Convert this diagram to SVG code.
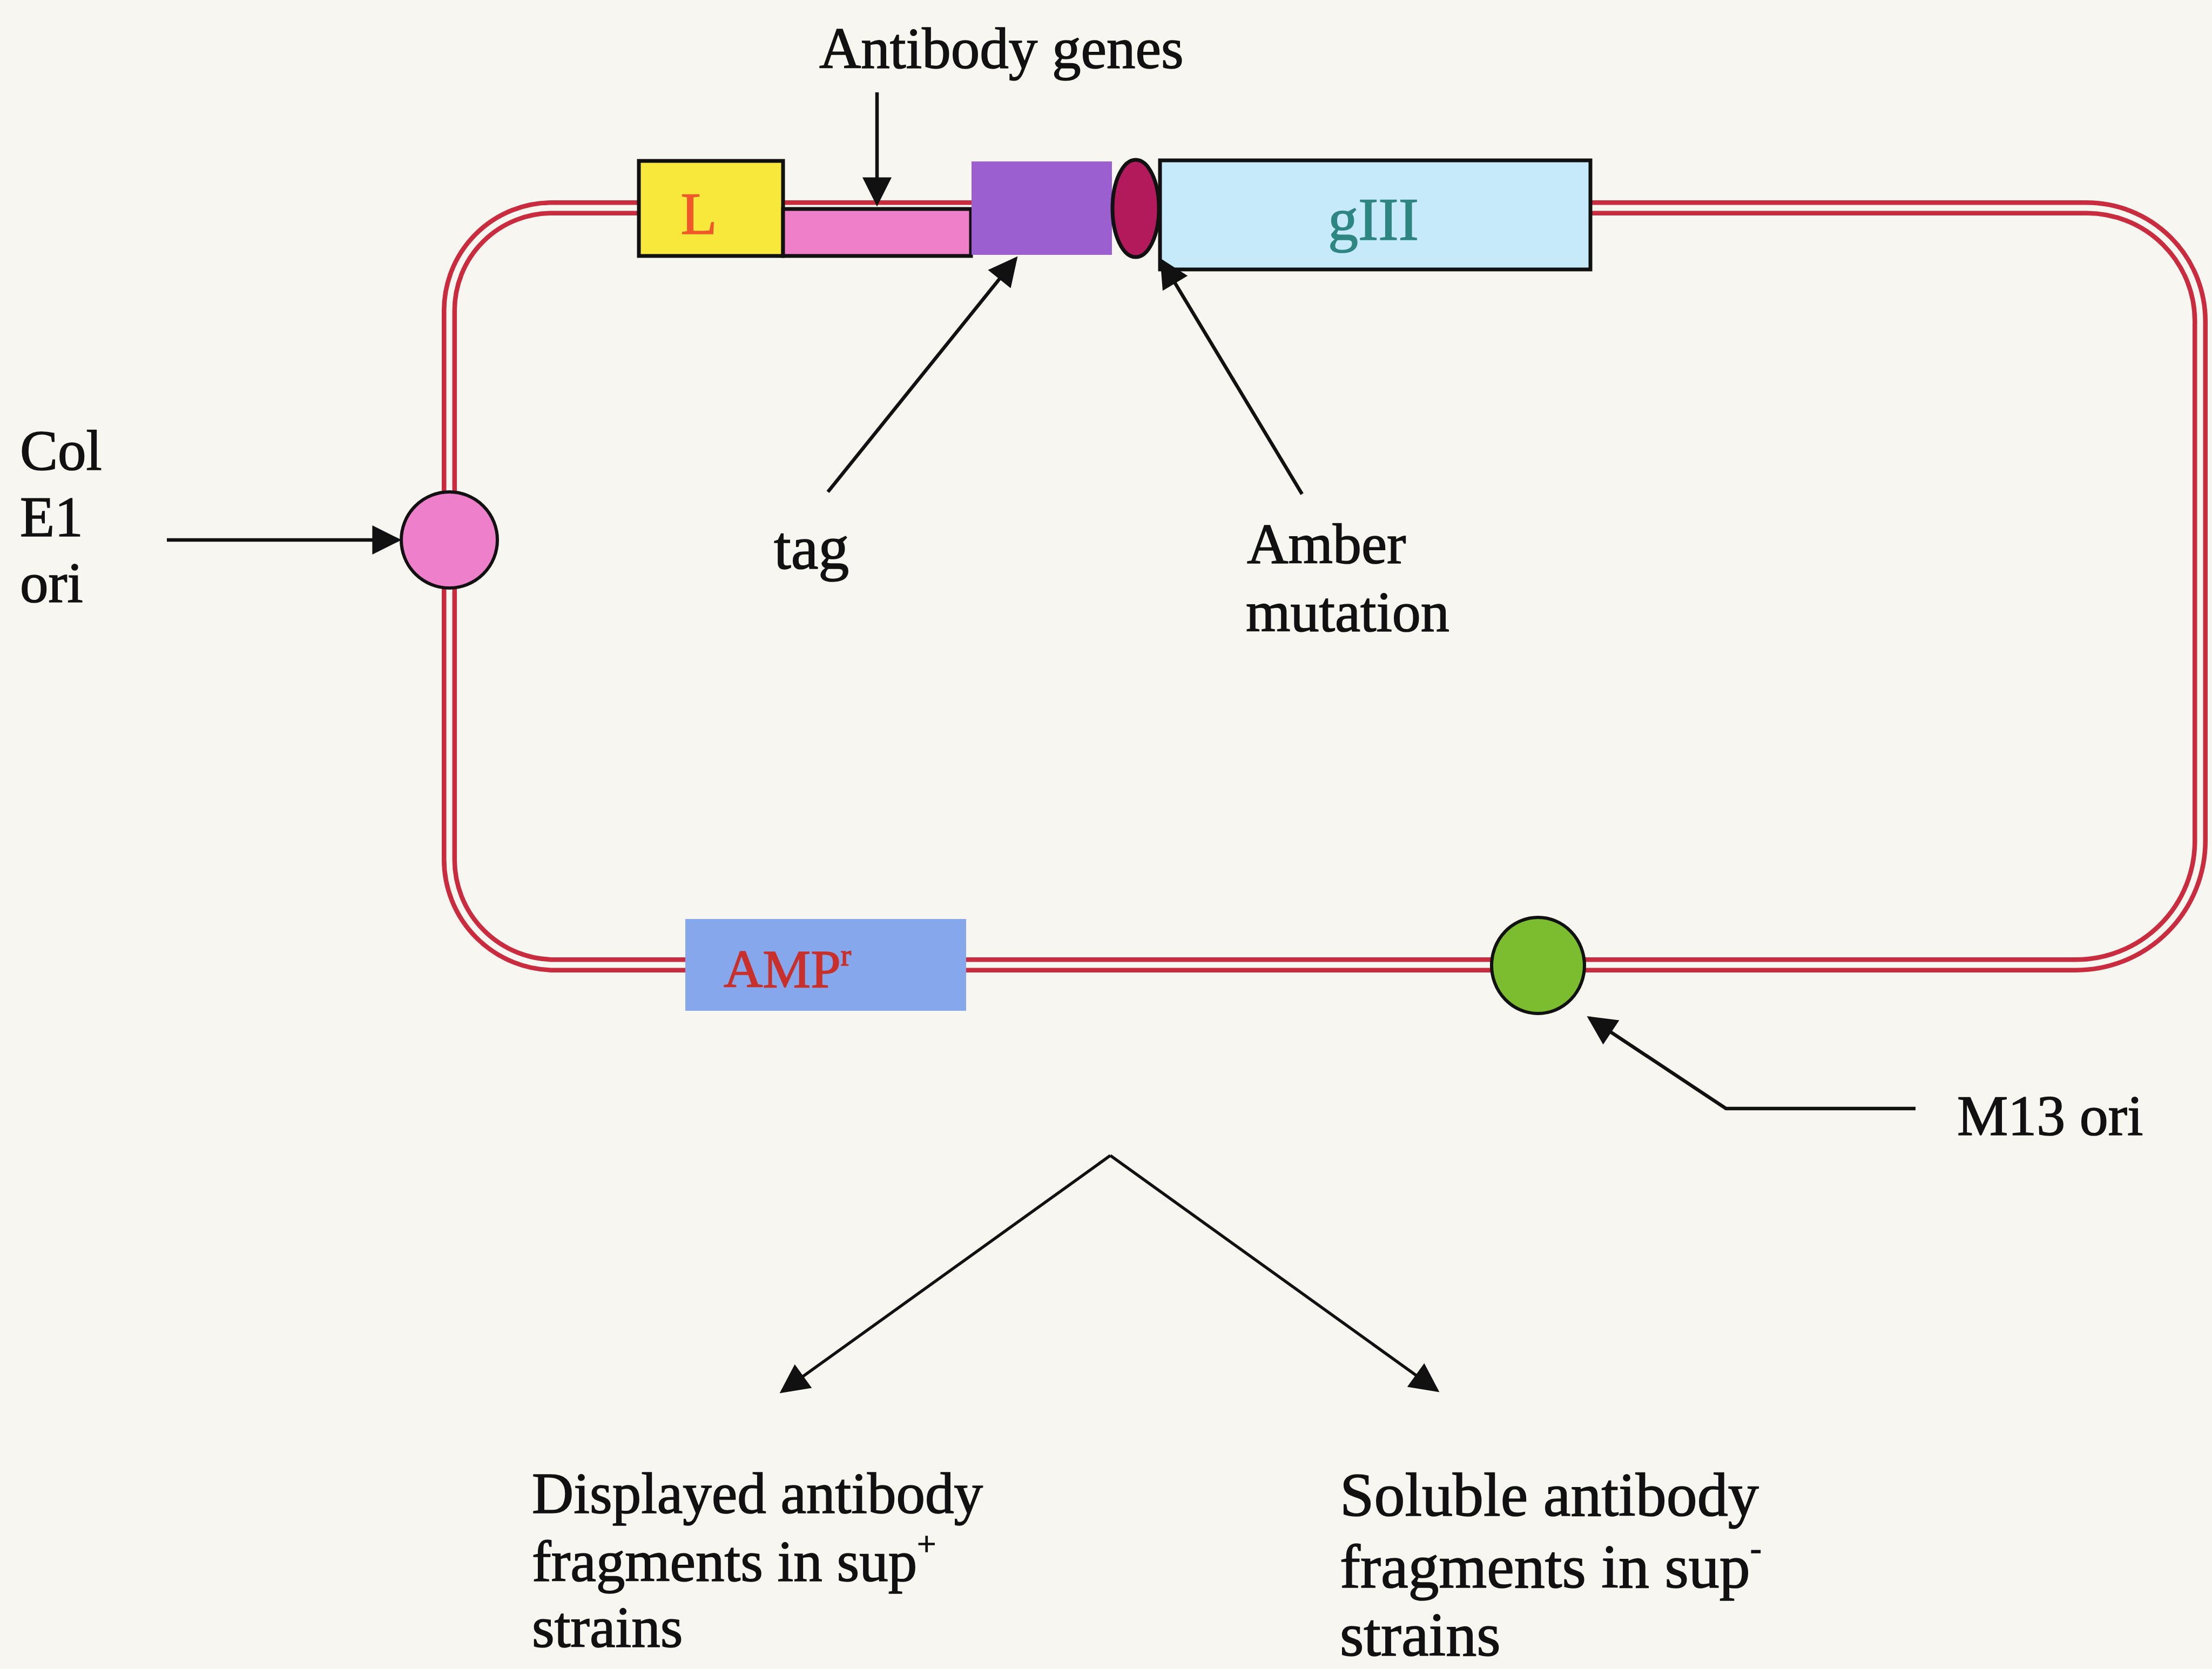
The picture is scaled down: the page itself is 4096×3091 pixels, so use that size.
<svg xmlns="http://www.w3.org/2000/svg" width="4096" height="3091" viewBox="0 0 4096 3091">
<defs>
<style>
.t{font-family:"Liberation Serif","Times New Roman",serif;color:#111;fill:currentColor;stroke:currentColor;stroke-width:1.6;}
.box{stroke:#111;stroke-width:7;}
.arr{stroke:#111;stroke-width:6.5;fill:none;marker-end:url(#ah);}
.arr2{stroke:#111;stroke-width:5.5;fill:none;marker-end:url(#ah);}
</style>
<marker id="ah" viewBox="0 0 10 10" refX="9" refY="5" markerWidth="62" markerHeight="54" markerUnits="userSpaceOnUse" orient="auto">
<path d="M0,0 L10,5 L0,10 z" fill="#111"/>
</marker>
</defs>
<rect x="0" y="0" width="4096" height="3091" fill="#f7f6f1"/>

<g id="plasmid">
<path d="M1022 385 H3864 A210 210 0 0 1 4074 595 V1557 A230 230 0 0 1 3844 1787 H1027 A195 195 0 0 1 832 1592 V575 A190 190 0 0 1 1022 385 Z" fill="none" stroke="#c92c3e" stroke-width="28"/>
<path d="M1022 385 H3864 A210 210 0 0 1 4074 595 V1557 A230 230 0 0 1 3844 1787 H1027 A195 195 0 0 1 832 1592 V575 A190 190 0 0 1 1022 385 Z" fill="none" stroke="#f7f6f1" stroke-width="11"/>
</g>

<g id="leader-L">
<rect class="box" x="1183" y="298" width="267" height="176" fill="#f8e83c"/>
<text class="t" x="1294" y="433" font-size="110" text-anchor="middle" style="color:#f0582a">L</text>
</g>

<g id="antibody-genes">
<rect class="box" x="1450" y="387" width="348" height="87" fill="#ef7fc9"/>
</g>

<g id="tag-box">
<rect x="1799" y="299" width="260" height="173" fill="#9b5fd0"/>
</g>

<g id="amber">
<ellipse class="box" cx="2103" cy="386" rx="43" ry="90" fill="#b21a5c" stroke-width="6"/>
</g>

<g id="gIII">
<rect class="box" x="2148" y="297" width="797" height="202" fill="#c6eafa"/>
<text class="t" x="2543" y="444" font-size="112" text-anchor="middle" style="color:#2e8683">gIII</text>
</g>

<g id="colE1">
<ellipse cx="832" cy="1000" rx="89" ry="89" fill="#ee7fcb" stroke="#111" stroke-width="6"/>
</g>

<g id="ampr">
<rect x="1269" y="1702" width="520" height="170" fill="#86a7ec"/>
<text class="t" x="1340" y="1828" font-size="100" style="color:#c8302c">AMP<tspan font-size="58" dy="-40">r</tspan></text>
</g>

<g id="m13">
<ellipse cx="2848" cy="1788" rx="86" ry="89" fill="#7bbd2f" stroke="#111" stroke-width="6"/>
</g>

<g id="connectors">
<line class="arr" x1="1624" y1="171" x2="1624" y2="377"/>
<line class="arr" x1="1533" y1="911" x2="1881" y2="479"/>
<line class="arr" x1="2411" y1="915" x2="2151" y2="483"/>
<line class="arr" x1="309" y1="1000" x2="738" y2="1000"/>
<polyline class="arr" points="3547,2053 3196,2053 2943,1885"/>
<line class="arr2" x1="2056" y1="2140" x2="1448" y2="2577"/>
<line class="arr2" x1="2056" y1="2140" x2="2661" y2="2575"/>
</g>

<g id="labels">
<text class="t" x="1517" y="126" font-size="107">Antibody genes</text>
<text class="t" x="1433" y="1053" font-size="114">tag</text>
<text class="t" x="2309" y="1043" font-size="106">Amber</text>
<text class="t" x="2307" y="1169" font-size="106">mutation</text>
<text class="t" x="37" y="870" font-size="105">Col</text>
<text class="t" x="37" y="993" font-size="105">E1</text>
<text class="t" x="37" y="1115" font-size="105">ori</text>
<text class="t" x="3624" y="2102" font-size="106">M13 ori</text>
</g>

<g id="displayed">
<text class="t" x="985" y="2802" font-size="107">Displayed antibody</text>
<text class="t" x="985" y="2928" font-size="107">fragments in sup<tspan font-size="62" dy="-48">+</tspan></text>
<text class="t" x="985" y="3050" font-size="107">strains</text>
</g>

<g id="soluble">
<text class="t" x="2481" y="2807" font-size="114">Soluble antibody</text>
<text class="t" x="2481" y="2940" font-size="114">fragments in sup<tspan font-size="62" dy="-52">-</tspan></text>
<text class="t" x="2481" y="3066" font-size="114">strains</text>
</g>
</svg>
